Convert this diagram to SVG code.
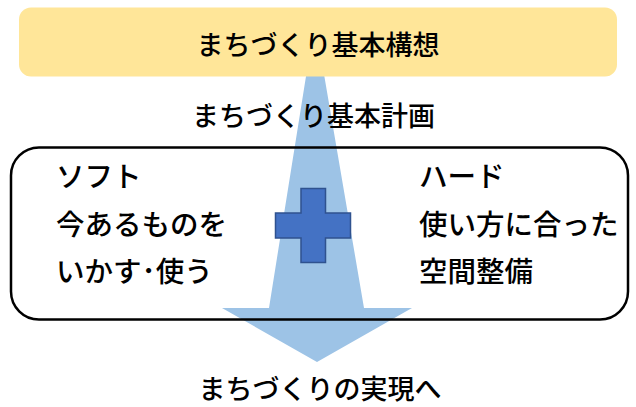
<svg xmlns="http://www.w3.org/2000/svg" width="636" height="407" viewBox="0 0 636 407">
<style>
text{font-family:"Noto Sans CJK JP","Noto Sans",sans-serif;font-weight:500;fill:#000}
.h{font-size:27px;text-anchor:middle}
.s{font-size:28.5px}
</style>
<rect width="636" height="407" fill="#fff"/>
<g id="arrow">
<polygon points="311,45 319,45 364,308 412,308 317,362 222,308 269,308" fill="#9DC3E6"/>
</g>
<g id="kousou">
<rect x="19" y="7.5" width="598" height="69" rx="12" fill="#FFE699"/>
<text class="h" x="318" y="55">まちづくり基本構想</text>
</g>
<g id="keikaku">
<text class="h" x="313.5" y="126">まちづくり基本計画</text>
</g>
<g id="frame">
<rect x="11" y="147.5" width="617" height="172" rx="28" fill="none" stroke="#000" stroke-width="2.5"/>
</g>
<g id="soft">
<text class="s" x="56" y="187">ソフト</text>
<text class="s" x="56" y="235">今あるものを</text>
<text class="s" x="56" y="282">いかす･使う</text>
</g>
<g id="hard">
<text class="s" x="419" y="187">ハード</text>
<text class="s" x="419" y="235">使い方に合った</text>
<text class="s" x="419" y="282">空間整備</text>
</g>
<g id="plus">
<polygon points="301,188.5 325.5,188.5 325.5,213 350.5,213 350.5,238 325.5,238 325.5,262.5 301,262.5 301,238 275.5,238 275.5,213 301,213" fill="#4472C4" stroke="#2F528F" stroke-width="1.5"/>
</g>
<g id="jitsugen">
<text class="h" x="320" y="399">まちづくりの実現へ</text>
</g>
</svg>
